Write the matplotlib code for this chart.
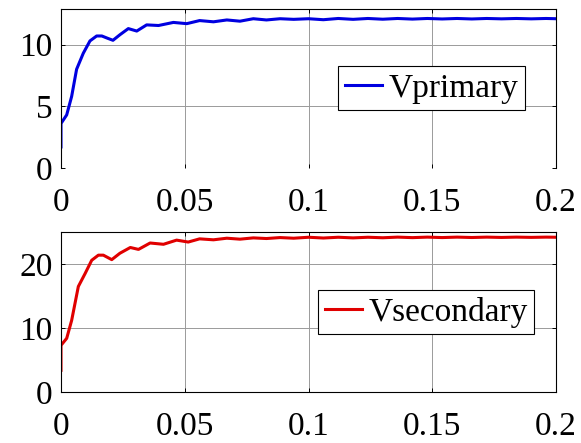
import matplotlib.pyplot as plt

# data (time in s, voltage in V)
t_prim = [0, 0, 0.0023, 0.0043, 0.0063, 0.009, 0.0117, 0.0144, 0.0165, 0.019,
          0.021, 0.0238, 0.0272, 0.0306, 0.0346, 0.0394, 0.0454, 0.0508, 0.056,
          0.0616, 0.067, 0.0723, 0.0777, 0.083, 0.0885, 0.094, 0.1, 0.106, 0.112,
          0.118, 0.124, 0.13, 0.136, 0.142, 0.148, 0.154, 0.16, 0.166, 0.172,
          0.178, 0.184, 0.19, 0.196, 0.2]
v_prim = [1.7, 3.6, 4.3, 5.8, 8.0, 9.3, 10.3, 10.7, 10.7, 10.5,
          10.35, 10.8, 11.3, 11.1, 11.6, 11.55, 11.8, 11.7, 11.95,
          11.85, 12.0, 11.9, 12.1, 12.0, 12.1, 12.05, 12.1, 12.02, 12.12,
          12.05, 12.12, 12.06, 12.12, 12.07, 12.12, 12.08, 12.12, 12.08, 12.12,
          12.09, 12.12, 12.09, 12.12, 12.1]

t_sec = [0, 0, 0.0023, 0.0043, 0.007, 0.0097, 0.0124, 0.0151, 0.0171, 0.0205,
         0.0238, 0.028, 0.0313, 0.036, 0.0414, 0.0467, 0.0514, 0.056, 0.0616,
         0.067, 0.0723, 0.0777, 0.083, 0.0885, 0.094, 0.1, 0.106, 0.112, 0.118,
         0.124, 0.13, 0.136, 0.142, 0.148, 0.154, 0.16, 0.166, 0.172, 0.178,
         0.184, 0.19, 0.196, 0.2]
v_sec = [3.4, 7.3, 8.4, 11.2, 16.5, 18.5, 20.6, 21.4, 21.4, 20.7,
         21.7, 22.6, 22.3, 23.3, 23.1, 23.75, 23.45, 23.95, 23.8,
         24.05, 23.9, 24.1, 24.0, 24.15, 24.05, 24.2, 24.08, 24.2, 24.1,
         24.2, 24.12, 24.22, 24.14, 24.22, 24.15, 24.22, 24.16, 24.22, 24.17,
         24.22, 24.18, 24.22, 24.2]

x_ticks = [0, 0.05, 0.1, 0.15, 0.2]
x_labels = ['0', '0.05', '0.1', '0.15', '0.2']

plt.rcParams['font.family'] = ['Liberation Serif', 'DejaVu Serif']

fig = plt.figure(figsize=(5.81, 4.43), dpi=100)
ax1 = fig.add_axes([0.105, 0.621, 0.852, 0.359])
ax2 = fig.add_axes([0.105, 0.115, 0.852, 0.361])


def style(ax, yticks, ylim):
    ax.set_xlim(0, 0.2)
    ax.set_ylim(*ylim)
    ax.set_xticks(x_ticks)
    ax.set_xticklabels(x_labels)
    ax.set_yticks(yticks)
    ax.grid(True, color='#9a9a9a', linewidth=0.7)
    ax.tick_params(direction='in', length=3, width=0.7, labelsize=24,
                   top=True, right=True, pad=6)
    ax.tick_params(axis='x', pad=14)
    for s in ax.spines.values():
        s.set_linewidth(0.8)


def add_legend(ax, anchor):
    leg = ax.legend(loc='center left', bbox_to_anchor=anchor, fontsize=24,
                    handlelength=1.1, handletextpad=0.2, borderpad=0.2,
                    fancybox=False, framealpha=1, borderaxespad=0)
    leg.get_frame().set_edgecolor('black')
    leg.get_frame().set_linewidth(0.8)


ax1.plot(t_prim, v_prim, color='#0000e0', linewidth=2.2, label='Vprimary',
         solid_joinstyle='round')
style(ax1, [0, 5, 10], (0, 12.9))
ax1.spines['bottom'].set_visible(False)
add_legend(ax1, (0.56, 0.50))

ax2.plot(t_sec, v_sec, color='#e00000', linewidth=2.2, label='Vsecondary',
         solid_joinstyle='round')
style(ax2, [0, 10, 20], (0, 25))
add_legend(ax2, (0.52, 0.50))

plt.savefig('out.png', dpi=100)
